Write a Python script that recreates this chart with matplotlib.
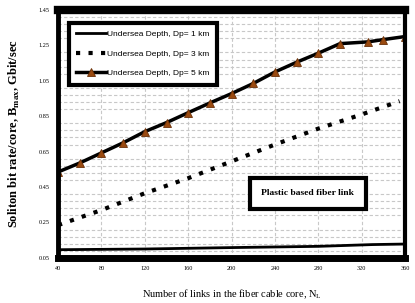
import matplotlib
matplotlib.use("Agg")
import matplotlib.pyplot as plt

x1 = [40, 120, 200, 280, 330, 360]
dp1 = [0.096, 0.100, 0.108, 0.115, 0.125, 0.128]

x3 = [40, 80, 120, 160, 200, 240, 280, 320, 355]
dp3 = [0.235, 0.32, 0.415, 0.50, 0.595, 0.69, 0.78, 0.86, 0.935]

x5 = [40, 60, 80, 100, 120, 140, 160, 180, 200, 220, 240, 260, 280, 300, 326, 340, 360]
dp5 = [0.535, 0.586, 0.643, 0.70, 0.763, 0.814, 0.87, 0.925, 0.978, 1.035,
       1.10, 1.155, 1.206, 1.26, 1.27, 1.283, 1.30]

xticks = [40, 80, 120, 160, 200, 240, 280, 320, 360]
yticks = [0.05, 0.25, 0.45, 0.65, 0.85, 1.05, 1.25, 1.45]
labels = ["Undersea Depth, Dp= 1 km", "Undersea Depth, Dp= 3 km", "Undersea Depth, Dp= 5 km"]

fig = plt.figure(figsize=(4.15, 3.03), dpi=100)
ax = fig.add_axes([0.14, 0.149, 0.836, 0.818])

ax.plot(x1, dp1, color="black", lw=2.0, label=labels[0])
ax.plot(x3, dp3, color="black", lw=3.0, linestyle=(0, (1, 2)), label=labels[1])
ax.plot(x5, dp5, color="black", lw=2.5, marker="^", markersize=5.5,
        markerfacecolor="#9a4a10", markeredgecolor="#6a3008", markeredgewidth=0.6,
        label=labels[2])

ax.set_xlim(40, 360)
ax.set_ylim(0.05, 1.45)
ax.set_xticks(xticks)
ax.set_yticks(yticks)
ax.set_xticklabels([str(v) for v in xticks], fontsize=4.5, family="Liberation Serif")
ax.set_yticklabels(["%.2f" % v for v in yticks], fontsize=4.5, family="Liberation Serif")
ax.set_yticks([0.05 + 0.04 * i for i in range(36)], minor=True)
ax.tick_params(axis="both", which="both", length=0, pad=6)
ax.grid(True, which="major", axis="x", color="#c8c8c8", linestyle=(0, (3, 2)), lw=0.8)
ax.grid(True, which="minor", axis="y", color="#c8c8c8", linestyle=(0, (3, 2)), lw=0.8)
ax.set_axisbelow(True)

ax.spines["top"].set_linewidth(6)
ax.spines["bottom"].set_linewidth(5)
ax.spines["left"].set_linewidth(3.5)
ax.spines["right"].set_linewidth(3)

ax.set_xlabel("Number of links in the fiber cable core, N$_\\mathregular{L}$",
              fontsize=7.5, family="Liberation Serif", labelpad=12)
ax.set_ylabel("Soliton bit rate/core, B$_\\mathregular{max}$, Gbit/sec",
              fontsize=9, family="Liberation Serif", fontweight="bold", labelpad=12)

leg = ax.legend(loc="upper left", bbox_to_anchor=(0.018, 0.965), fancybox=False,
                framealpha=1, edgecolor="black", borderpad=0.9, handlelength=3.6,
                handletextpad=0.1, labelspacing=1.4,
                prop={"family": "Liberation Sans", "size": 6})
leg.get_frame().set_linewidth(3)

ax.text(0.72, 0.26, "Plastic based fiber link", transform=ax.transAxes,
        fontsize=6.8, family="Liberation Serif", fontweight="bold",
        ha="center", va="center",
        bbox=dict(boxstyle="square,pad=1.2", facecolor="white", edgecolor="black", lw=3))

fig.savefig("out.png", dpi=100)
